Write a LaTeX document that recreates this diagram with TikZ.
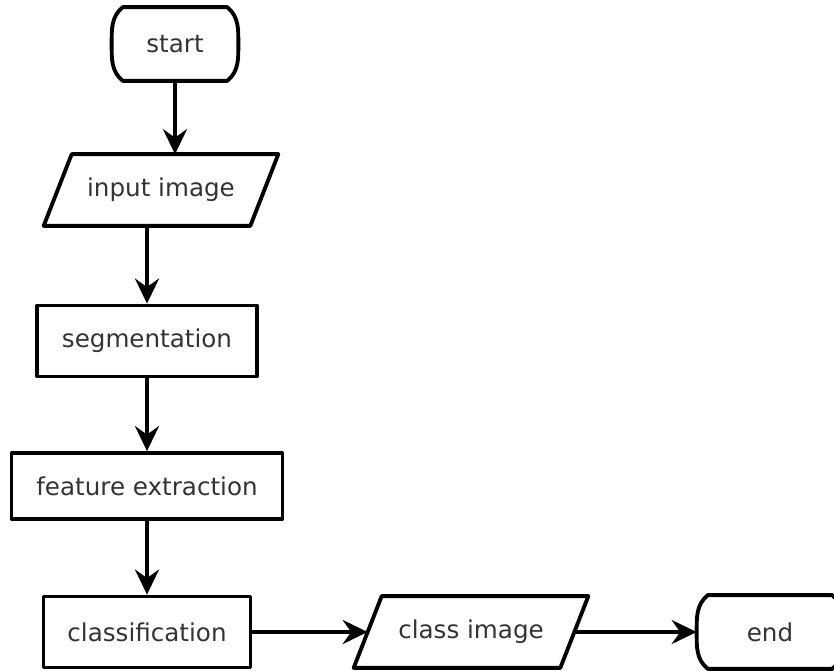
\documentclass[tikz,border=0pt]{standalone}
\usepackage{fontspec}
\setmainfont{DejaVu Sans}
\usetikzlibrary{arrows.meta}
\definecolor{txtgrey}{HTML}{333333}
\begin{document}
\begin{tikzpicture}[x=0.02cm,y=-0.02cm,
    every node/.style={text=txtgrey,font=\fontsize{14}{17}\selectfont},
    outline/.style={line width=2.2pt,line join=round},
    box/.style={draw,outline,rectangle,minimum height=1.42cm},
    term/.style={rectangle,minimum height=1.46cm},
    io/.style={rectangle,minimum height=1.42cm,minimum width=4.12cm},
    flow/.style={line width=2.2pt,-{Stealth[length=0.5cm,width=0.48cm,inset=0.17cm]}}]
                \useasboundingbox (0,0) rectangle (834,670);
                %% nodes
                \node[term,minimum width=2.52cm] (start) at (175,44) {start};
                \node[io] (input) at (161,190) {input image};
                \node[box,minimum width=4.4cm] (seg) at (147,341) {segmentation};
                \node[box,minimum width=5.42cm,minimum height=1.32cm] (feat) at (147,486) {feature extraction};
                \node[box,minimum width=4.14cm] (cls) at (147,632) {classification};
                \node[io] (cimg) at (471,632) {class image};
                \node[term,minimum width=2.92cm] (end) at (770,632) {end};
                %% terminals
                \foreach \n in {start,end} {
                    \draw[outline] ([xshift=0.22cm]\n.north west) -- ([xshift=-0.22cm]\n.north east)
                        to[out=-40,in=90] (\n.east) to[out=-90,in=40] ([xshift=-0.22cm]\n.south east)
                        -- ([xshift=0.22cm]\n.south west) to[out=140,in=-90] (\n.west) to[out=90,in=220] cycle;
                }
                %% parallelograms
                \foreach \n in {input,cimg} {
                    \draw[outline] ([xshift=0.28cm]\n.north west) -- ([xshift=0.28cm]\n.north east)
                        -- ([xshift=-0.28cm]\n.south east) -- ([xshift=-0.28cm]\n.south west) -- cycle;
                }
                %% connectors
                \draw[flow] (start.south) -- (start.south |- input.north);
                \draw[flow] (seg.north |- input.south) -- (seg.north);
                \draw[flow] (seg) -- (feat);
                \draw[flow] (feat) -- (cls);
                \draw[flow] (cls) -- (cimg);
                \draw[flow] (cimg) -- (end);
            \end{tikzpicture}
\end{document}
